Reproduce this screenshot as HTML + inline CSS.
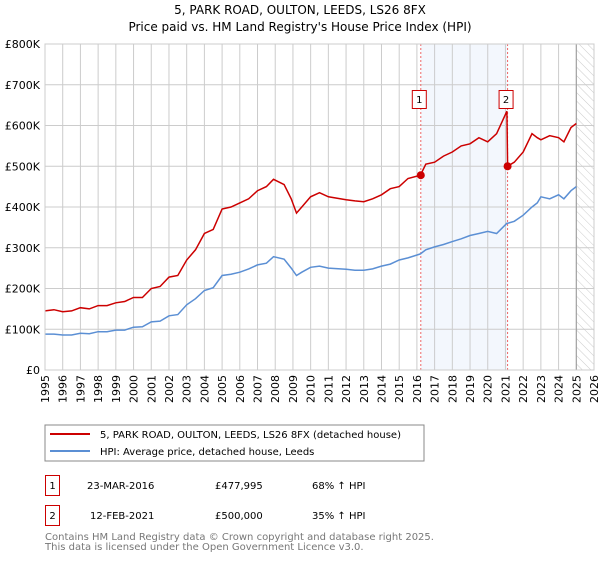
<!DOCTYPE html>
<html><head><meta charset="utf-8"><style>
body{margin:0;background:#fff;font-family:"Liberation Sans","DejaVu Sans",sans-serif}
svg text{font-family:"DejaVu Sans","Liberation Sans",sans-serif}
</style></head><body>
<svg id="c" width="600" height="560" xmlns="http://www.w3.org/2000/svg">
<defs><pattern id="hatch" width="6" height="6" patternUnits="userSpaceOnUse" patternTransform="rotate(-45)"><line x1="0" y1="0" x2="0" y2="6" stroke="#ccc" stroke-width="1"/></pattern></defs>
<text x="300" y="14" text-anchor="middle" font-size="12">5, PARK ROAD, OULTON, LEEDS, LS26 8FX</text>
<text x="300" y="31" text-anchor="middle" font-size="12">Price paid vs. HM Land Registry's House Price Index (HPI)</text>
<g id="plot"></g>
<rect x="45" y="425" width="379" height="36" fill="none" stroke="#888"/>
<line x1="50" y1="434" x2="90" y2="434" stroke="#cc0000" stroke-width="2"/>
<text x="100" y="438" font-size="10">5, PARK ROAD, OULTON, LEEDS, LS26 8FX (detached house)</text>
<line x1="50" y1="451" x2="90" y2="451" stroke="#5b8fd4" stroke-width="2"/>
<text x="100" y="455" font-size="10">HPI: Average price, detached house, Leeds</text>
<g font-size="10">
<rect x="45.5" y="475.5" width="14" height="20" fill="none" stroke="#cc0000"/>
<text x="52.5" y="489" text-anchor="middle">1</text>
<text x="87" y="489">23-MAR-2016</text><text x="215" y="489">£477,995</text><text x="312" y="489">68% ↑ HPI</text>
<rect x="45.5" y="505.5" width="14" height="20" fill="none" stroke="#cc0000"/>
<text x="52.5" y="519" text-anchor="middle">2</text>
<text x="90" y="519">12-FEB-2021</text><text x="215" y="519">£500,000</text><text x="312" y="519">35% ↑ HPI</text>
</g>
<text x="45" y="540" font-size="10" fill="#777">Contains HM Land Registry data © Crown copyright and database right 2025.</text>
<text x="45" y="550" font-size="10" fill="#777">This data is licensed under the Open Government Licence v3.0.</text>
</svg>
<script>
const yTicks=[0,100,200,300,400,500,600,700,800];
const yTickLabels=["£0","£100K","£200K","£300K","£400K","£500K","£600K","£700K","£800K"];
const years=[1995,1996,1997,1998,1999,2000,2001,2002,2003,2004,2005,2006,2007,2008,2009,2010,2011,2012,2013,2014,2015,2016,2017,2018,2019,2020,2021,2022,2023,2024,2025,2026];
const hpiT=[1995,1995.5,1996,1996.5,1997,1997.5,1998,1998.5,1999,1999.5,2000,2000.5,2001,2001.5,2002,2002.5,2003,2003.5,2004,2004.5,2005,2005.5,2006,2006.5,2007,2007.5,2007.9,2008.5,2008.9,2009.2,2009.5,2010,2010.5,2011,2012,2012.5,2013,2013.5,2014,2014.5,2015,2015.5,2016.2,2016.5,2017,2017.5,2018,2018.5,2019,2019.5,2020,2020.5,2021.08,2021.12,2021.5,2022,2022.5,2022.8,2023,2023.5,2024,2024.3,2024.7,2025];
const hpiV=[88,88,86,86,90,89,94,94,98,98,105,106,118,120,133,136,160,175,195,202,232,235,240,248,258,262,278,272,250,232,240,252,255,250,247,245,245,248,255,260,270,275,285,295,302,308,315,322,330,335,340,335,360,360,365,380,400,410,425,420,430,420,440,450];
const redT=hpiT;
const redV=[145,148,143,145,153,150,158,158,165,168,178,178,200,205,228,232,270,295,335,345,395,400,410,420,440,450,468,455,420,385,400,425,435,425,418,415,413,420,430,445,450,470,478,505,510,525,535,550,555,570,560,580,635,500,510,535,580,570,565,575,570,560,595,605];
const sales=[[2016.22,478],[2021.12,500]];
const ns="http://www.w3.org/2000/svg";
const g=document.getElementById('plot');
const X0=45,X1=594,Y0=370,Y1=44;
const xs=t=>X0+(t-1995)*(X1-X0)/31;
const ys=v=>Y0-v*(Y0-Y1)/800;
function mk(tag,a){const e=document.createElementNS(ns,tag);for(const k in a)e.setAttribute(k,a[k]);g.appendChild(e);return e;}
let e=mk('rect',{x:xs(sales[0][0]),y:Y1,width:xs(sales[1][0])-xs(sales[0][0]),height:Y0-Y1,fill:'#eef3fc',opacity:0.7});


e=mk('rect',{x:xs(2025),y:Y1,width:X1-xs(2025),height:Y0-Y1,fill:'url(#hatch)'});


years.forEach(y=>{
 e=mk('line',{x1:xs(y),x2:xs(y),y1:Y1,y2:Y0,stroke:'#ccc'});
 
 
 const tx=xs(y)+4, ty=375;
 e=mk('text',{x:tx,y:ty,'text-anchor':'end','font-size':11,transform:`rotate(-90 ${tx} ${ty})`});e.textContent=y;
 
 
});
yTicks.forEach((v,i)=>{
 e=mk('line',{x1:X0,x2:X1,y1:ys(v),y2:ys(v),stroke:'#ccc'});
 
 
 e=mk('text',{x:40,y:ys(v)+4,'text-anchor':'end','font-size':11});e.textContent=yTickLabels[i];
 
 
});
e=mk('line',{x1:xs(2025),x2:xs(2025),y1:Y1,y2:Y0,stroke:'#999'});


sales.forEach((s,i)=>{
 e=mk('line',{x1:xs(s[0]),x2:xs(s[0]),y1:Y1,y2:Y0,stroke:'#e66','stroke-dasharray':'2,2'});
 
 
});
const pts=(T,V)=>T.map((t,i)=>xs(t).toFixed(1)+','+ys(V[i]).toFixed(1)).join(' ');
e=mk('polyline',{points:pts(hpiT,hpiV),fill:'none',stroke:'#5b8fd4','stroke-width':1.5});


e=mk('polyline',{points:pts(redT,redV),fill:'none',stroke:'#cc0000','stroke-width':1.5});


sales.forEach((s,i)=>{
 e=mk('circle',{cx:xs(s[0]),cy:ys(s[1]),r:4,fill:'#cc0000'});
 
 
 const bx=xs(s[0])-8;
 e=mk('rect',{x:bx-0.5,y:90.5,width:14,height:18,fill:'#fff',stroke:'#cc0000'});
 
 
 e=mk('text',{x:bx+6.5,y:103,'text-anchor':'middle','font-size':10});e.textContent=(i+1);
 
 
});
e=mk('rect',{x:X0,y:Y1,width:X1-X0,height:Y0-Y1,fill:'none',stroke:'#ccc'});


</script>
</body></html>
